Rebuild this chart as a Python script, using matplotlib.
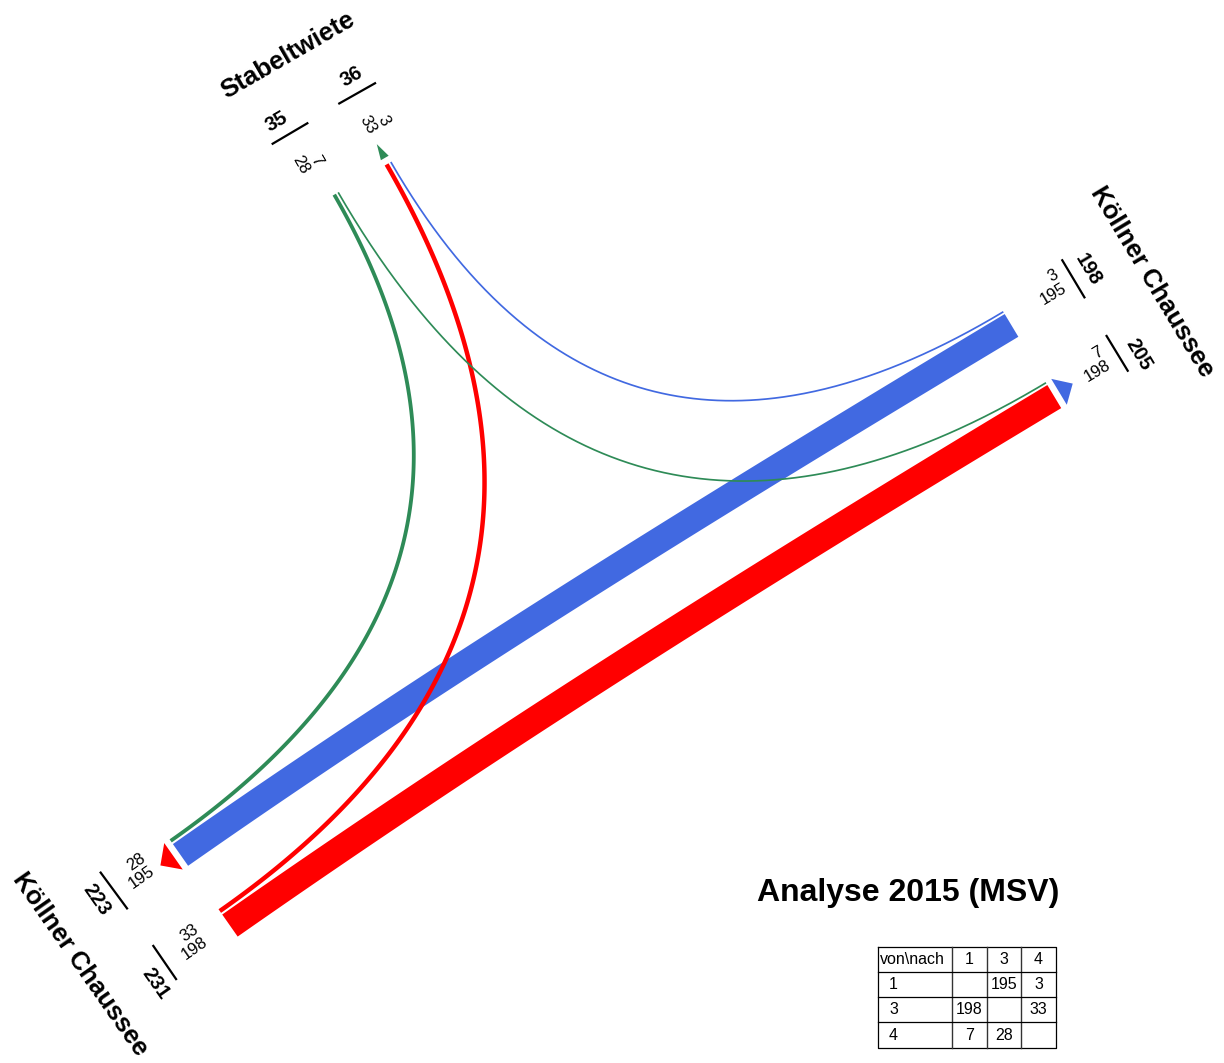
import numpy as np
import matplotlib
matplotlib.use("Agg")
import matplotlib.pyplot as plt
from matplotlib.patches import Polygon

# ---------------- data ----------------
ARMS = [1, 3, 4]
ARM_NAMES = ["Köllner Chaussee", "Köllner Chaussee", "Stabeltwiete"]
FLOW_FROM = [1, 1, 3, 3, 4, 4]
FLOW_TO = [3, 4, 1, 4, 1, 3]
FLOW_VOL = [195, 3, 198, 33, 7, 28]
TITLE = "Analyse 2015 (MSV)"
TABLE_CORNER = "von\\nach"

# ---------------- layout ----------------
ARM_ANGLE = {1: 31.0, 3: 215.0, 4: 120.0}
ARM_CENTER = {1: (1032.0, 359.5), 3: (203.3, 887.5), 4: (361.7, 178.8)}
ARM_COLOR = {1: "#4169E1", 3: "#FF0000", 4: "#2E8B57"}
SCALE = 0.136
MIN_W = 1.3
GAP = 2.0
HALF = 26.5

LAB = {
    1: dict(name=(1152, 282), name_rot=-59, tot_rot=-59, small_rot=31,
            tot_o=(1088.3, 270), tot_d=(1138.3, 355),
            small_o=(1048.9, 287.7), small_d=(1093.8, 364.4),
            line_o=((1061.7, 259.3), (1085, 298.3)),
            line_d=((1106, 335), (1128.3, 371.7))),
    3: dict(name=(80, 964), name_rot=-55, tot_rot=-55, small_rot=35,
            tot_o=(155, 983.3), tot_d=(96.7, 900),
            small_o=(190.1, 942.3), small_d=(136.8, 870.7),
            line_o=((152.7, 945), (176.7, 980)),
            line_d=((100, 871.7), (127.7, 909.3))),
    4: dict(name=(288, 55), name_rot=30, tot_rot=30, small_rot=-60,
            tot_o=(276, 121.7), tot_d=(351.7, 76.7),
            small_o=(307.2, 160.8), small_d=(374.5, 120.5),
            line_o=((271.7, 144.3), (308.3, 122.7)),
            line_d=((338.3, 104), (376, 82.7))),
}

FONT = ["Liberation Sans", "DejaVu Sans"]
plt.rcParams["font.family"] = FONT


def U(a):
    r = np.radians(ARM_ANGLE[a])
    return np.array([np.cos(r), -np.sin(r)])


def E(a):
    r = np.radians(ARM_ANGLE[a])
    return np.array([np.sin(r), np.cos(r)])


def turn(a, b):
    return (ARM_ANGLE[b] - (ARM_ANGLE[a] + 180) + 180) % 360 - 180


def width(v):
    return max(v * SCALE, MIN_W)


flows = list(range(len(FLOW_VOL)))
off_o, off_d = {}, {}
group_o, group_d = {}, {}
for a in ARMS:
    out = sorted([i for i in flows if FLOW_FROM[i] == a],
                 key=lambda i: -turn(FLOW_FROM[i], FLOW_TO[i]))
    cur = HALF
    for i in out:
        w = width(FLOW_VOL[i])
        off_o[i] = -(cur + w / 2)
        cur += w + GAP
    group_o[a] = (out, cur - GAP - HALF)
    inc = sorted([i for i in flows if FLOW_TO[i] == a],
                 key=lambda i: -turn(FLOW_FROM[i], FLOW_TO[i]))
    cur = HALF
    for i in inc:
        w = width(FLOW_VOL[i])
        off_d[i] = cur + w / 2
        cur += w + GAP
    group_d[a] = (inc, cur - GAP - HALF)

fig = plt.figure(figsize=(12.24, 10.63), dpi=100)
ax = fig.add_axes([0, 0, 1, 1])
ax.set_xlim(0, 1224)
ax.set_ylim(1063, 0)
ax.axis("off")

# ---------------- flows ----------------
for i in sorted(flows, key=lambda i: -FLOW_VOL[i]):
    a, b = FLOW_FROM[i], FLOW_TO[i]
    P0 = np.array(ARM_CENTER[a]) + E(a) * off_o[i]
    P3 = np.array(ARM_CENTER[b]) + E(b) * off_d[i]
    d0 = -U(a)
    d3 = -U(b)
    if abs(turn(a, b)) < 30:
        k0 = k3 = np.linalg.norm(P3 - P0) / 3
    else:
        M = np.column_stack([d0, -d3])
        t, s = np.linalg.solve(M, P3 - P0)
        k0, k3 = 2 / 3 * t, 2 / 3 * s
    P1 = P0 + d0 * k0
    P2 = P3 + d3 * k3
    tt = np.linspace(0, 1, 400)[:, None]
    B = (1 - tt) ** 3 * P0 + 3 * (1 - tt) ** 2 * tt * P1 + 3 * (1 - tt) * tt ** 2 * P2 + tt ** 3 * P3
    dB = 3 * (1 - tt) ** 2 * (P1 - P0) + 6 * (1 - tt) * tt * (P2 - P1) + 3 * tt ** 2 * (P3 - P2)
    n = np.column_stack([-dB[:, 1], dB[:, 0]])
    n /= np.linalg.norm(n, axis=1)[:, None]
    w = width(FLOW_VOL[i])
    col = ARM_COLOR[a]
    if w < 3:
        ax.plot(B[:, 0], B[:, 1], color=col, lw=w * 0.72 + 0.3, solid_capstyle="butt", zorder=3)
    else:
        poly = np.vstack([B + n * w / 2, (B - n * w / 2)[::-1]])
        ax.add_patch(Polygon(poly, closed=True, facecolor=col, edgecolor="none", zorder=2))

# ---------------- arrows & labels ----------------
for k, a in enumerate(ARMS):
    C = np.array(ARM_CENTER[a])
    inc, tot_w = group_d[a]
    ec = HALF + tot_w / 2
    base = C + E(a) * ec + U(a) * 6.5
    hb = max(tot_w / 2, 4.5)
    tri = np.array([base - E(a) * hb, base + E(a) * hb, base + U(a) * 16])
    ax.add_patch(Polygon(tri, closed=True, facecolor=ARM_COLOR[a], edgecolor="none", zorder=4))

    L = LAB[a]
    ax.text(*L["name"], ARM_NAMES[k], rotation=L["name_rot"], rotation_mode="anchor",
            ha="center", va="center", fontsize=18.5, fontweight="bold")
    out, _ = group_o[a]
    tot_o = sum(FLOW_VOL[i] for i in out)
    tot_d = sum(FLOW_VOL[i] for i in inc)
    ax.text(*L["tot_o"], str(tot_o), rotation=L["tot_rot"], rotation_mode="anchor",
            ha="center", va="center", fontsize=14.5, fontweight="bold")
    ax.text(*L["tot_d"], str(tot_d), rotation=L["tot_rot"], rotation_mode="anchor",
            ha="center", va="center", fontsize=14.5, fontweight="bold")
    for key in ("line_o", "line_d"):
        (x0, y0), (x1, y1) = L[key]
        ax.plot([x0, x1], [y0, y1], color="black", lw=1.6, solid_capstyle="butt")
    r = np.radians(L["small_rot"])
    up = np.array([-np.sin(r), -np.cos(r)])
    sgn = np.dot(E(a), up)
    for lanes, offs, pos in ((out, off_o, L["small_o"]), (inc, off_d, L["small_d"])):
        order = sorted(lanes, key=lambda i: -offs[i] * sgn)
        txt = "\n".join(str(FLOW_VOL[i]) for i in order)
        ax.text(*pos, txt, rotation=L["small_rot"], rotation_mode="anchor",
                ha="center", va="center", multialignment="right", fontsize=12,
                linespacing=1.05)

# ---------------- title ----------------
ax.text(908, 893, TITLE, ha="center", va="center", fontsize=23, fontweight="bold")

# ---------------- table ----------------
col_x = [878, 952, 987, 1021, 1056]
row_y = [947, 972, 997, 1022, 1048]
ax.plot([col_x[0], col_x[-1], col_x[-1], col_x[0], col_x[0]],
        [row_y[0], row_y[0], row_y[-1], row_y[-1], row_y[0]], color="black", lw=0.9)
for x in col_x[1:-1]:
    ax.plot([x, x], [row_y[0], row_y[-1]], color="#333333", lw=1.0)
for y in row_y[1:-1]:
    ax.plot([col_x[0], col_x[-1]], [y, y], color="black", lw=0.9)
fs = 11.5
ax.text(col_x[0] + 2, (row_y[0] + row_y[1]) / 2, TABLE_CORNER, ha="left", va="center", fontsize=fs)
for j, b in enumerate(ARMS):
    ax.text((col_x[j + 1] + col_x[j + 2]) / 2, (row_y[0] + row_y[1]) / 2, str(b),
            ha="center", va="center", fontsize=fs)
for r_i, a in enumerate(ARMS):
    yc = (row_y[r_i + 1] + row_y[r_i + 2]) / 2
    ax.text(col_x[0] + 11, yc, str(a), ha="left", va="center", fontsize=fs)
    for j, b in enumerate(ARMS):
        vals = [FLOW_VOL[i] for i in flows if FLOW_FROM[i] == a and FLOW_TO[i] == b]
        if vals:
            ax.text((col_x[j + 1] + col_x[j + 2]) / 2, yc, str(vals[0]),
                    ha="center", va="center", fontsize=fs)

fig.savefig("out.png", dpi=100)
